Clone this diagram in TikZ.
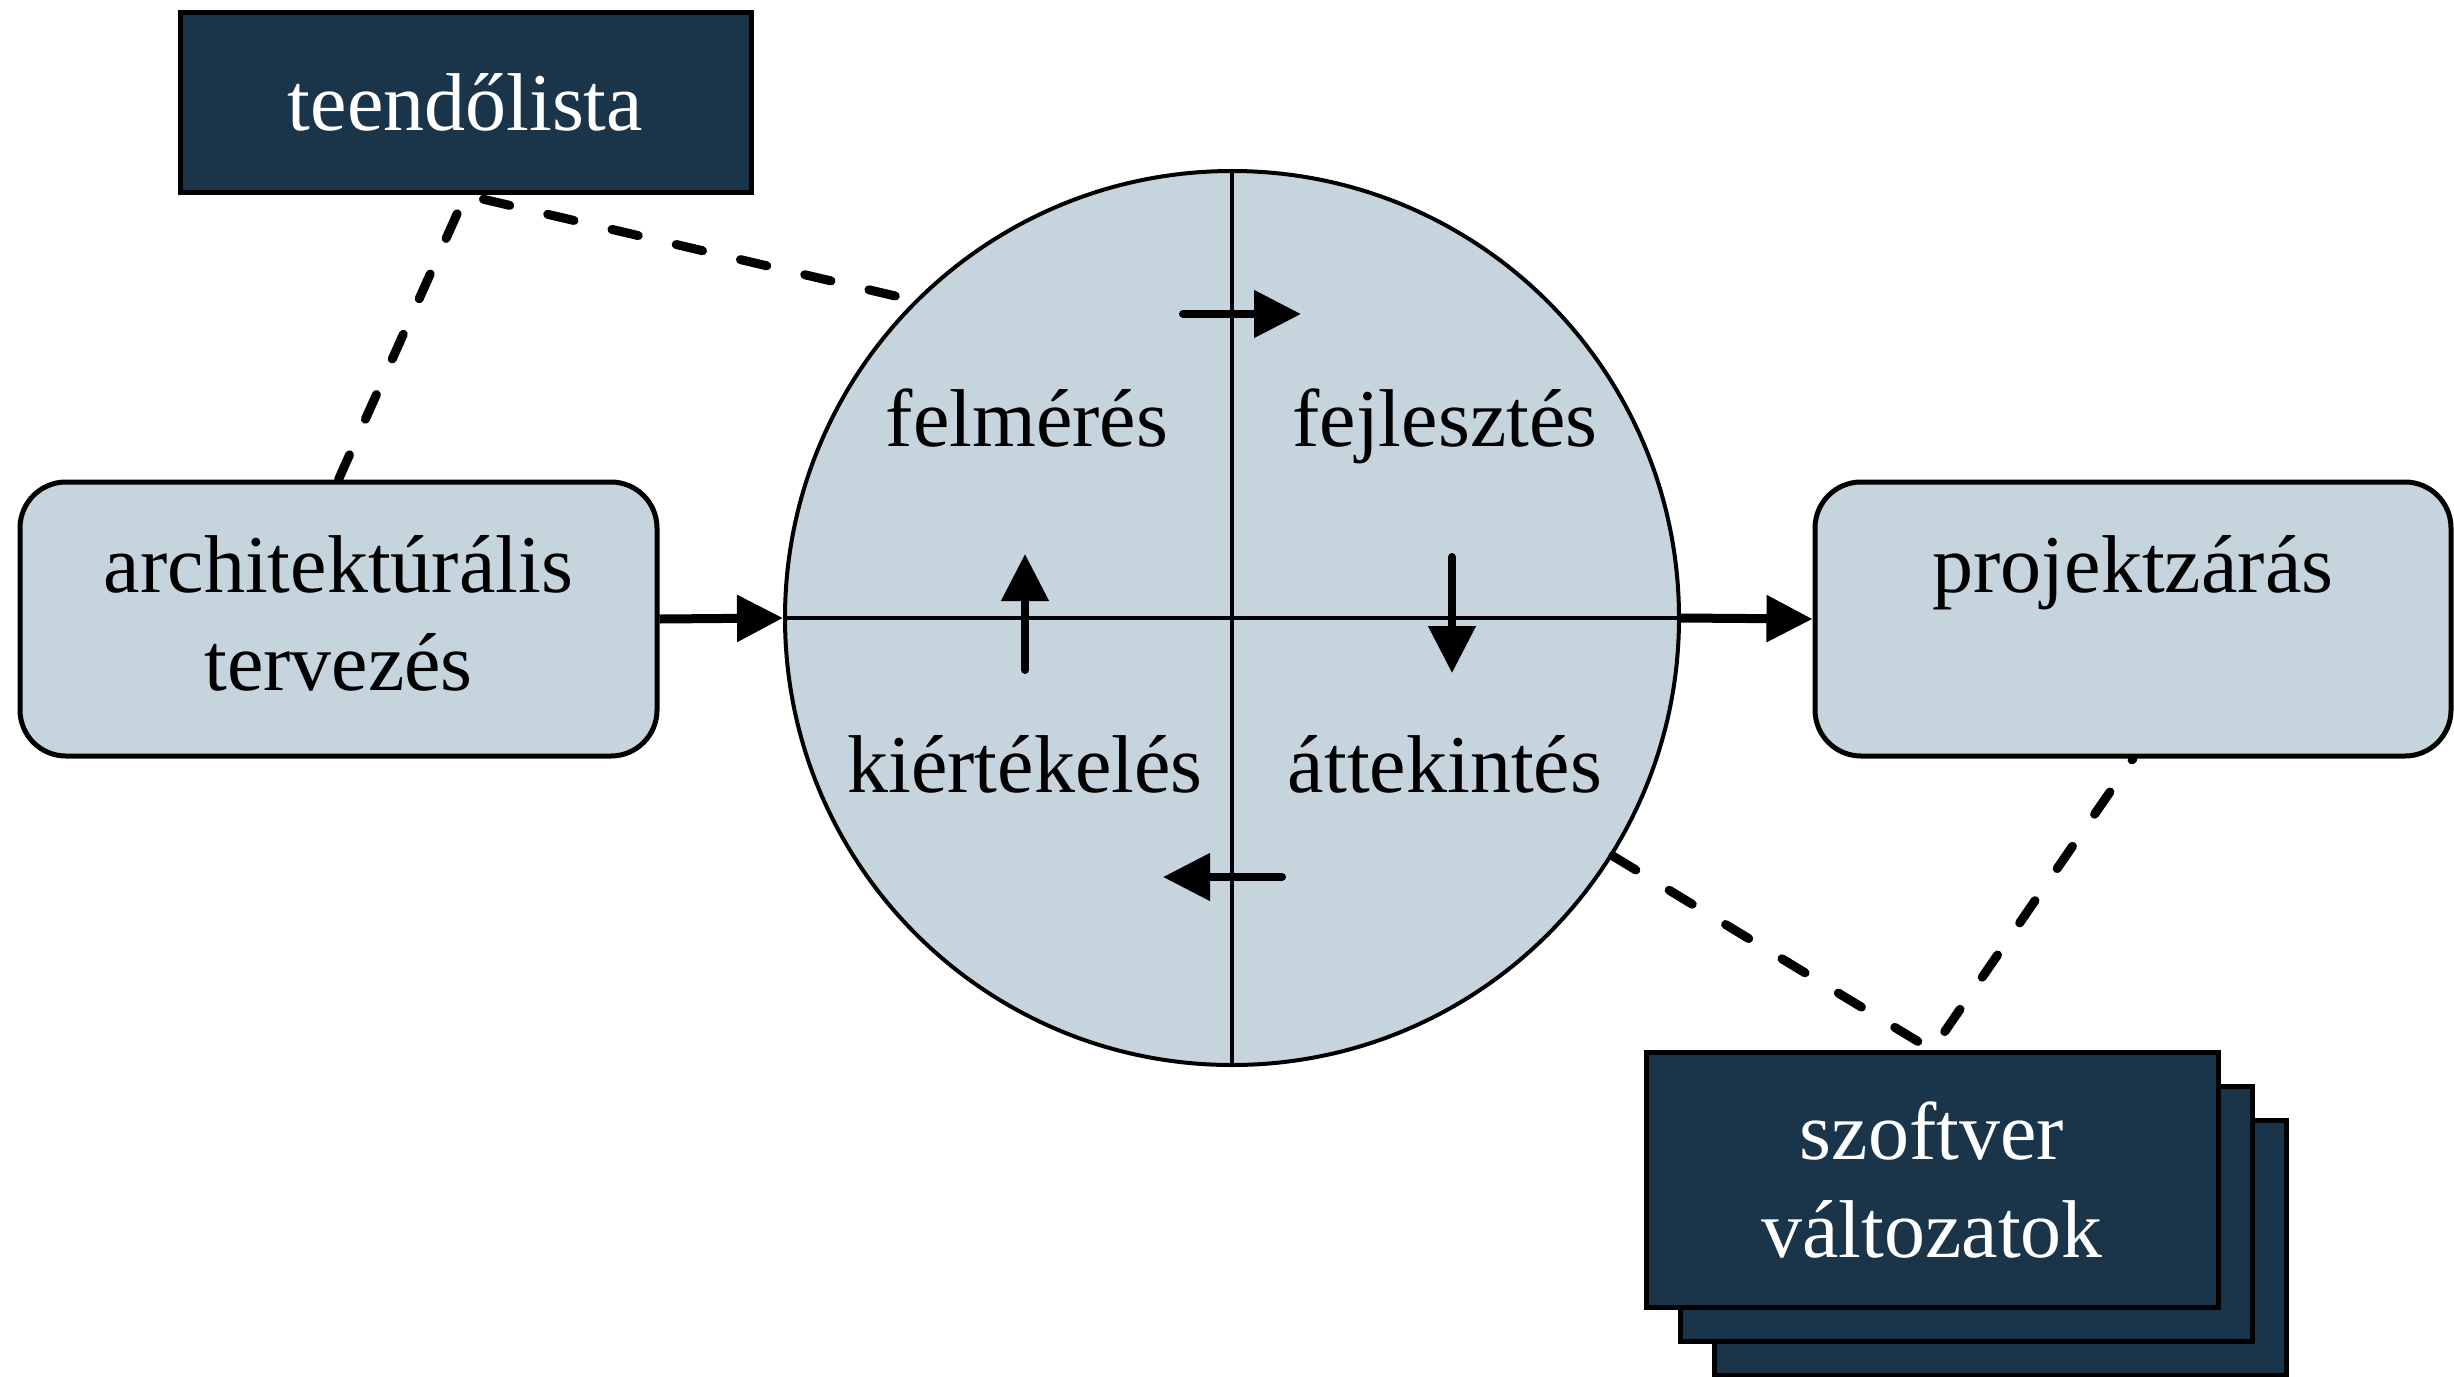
\documentclass[tikz,border=0pt]{standalone}
\usepackage{fontspec}
\setmainfont{Liberation Serif}
\usetikzlibrary{arrows.meta}
\definecolor{darkbox}{RGB}{26,53,73}
\definecolor{lightbox}{RGB}{198,212,221}
\newcommand{\lowstrut}{\rule[-12pt]{0pt}{12pt}}
\begin{document}
\begin{tikzpicture}[x=1pt,y=-1pt,
  bigfont/.style={font=\fontsize{82}{98}\selectfont},
  darkrect/.style={draw=black, line width=5pt, fill=darkbox, text=white, align=center, inner sep=0pt, bigfont},
  lightrect/.style={draw=black, line width=5pt, fill=lightbox, rounded corners=46pt, align=center, inner sep=0pt, bigfont},
  flow/.style={line width=9pt, -{Triangle[length=46pt,width=45pt]}},
  cycarrow/.style={line width=8pt, line cap=round, -{Triangle[length=47pt,width=46pt]}},
  dashline/.style={line width=9pt, line cap=round, dash pattern=on 27pt off 39pt},
  quarter/.style={bigfont, anchor=base}
]
\path[use as bounding box] (0,0) rectangle (2454,1376);

% boxes
\node[darkrect, minimum width=571pt, minimum height=180pt] (todo) at (465.5,102.5) {teendőlista};
\node[lightrect, minimum width=637pt, minimum height=274pt] (arch) at (338.5,619) {architektúrális\\tervezés\lowstrut};
\node[lightrect, minimum width=636pt, minimum height=274pt] (proj) at (2133,619) {projektzárás\\\phantom{tervezés}\lowstrut};

% stacked release boxes
\node[darkrect, minimum width=572pt, minimum height=255pt] (ver3) at (2000,1248) {};
\node[darkrect, minimum width=572pt, minimum height=255pt] (ver2) at (1966,1214) {};
\node[darkrect, minimum width=572pt, minimum height=255pt] (ver) at (1932,1180) {szoftver\\változatok};

% cycle circle
\node[circle, draw=black, line width=4pt, fill=lightbox, minimum size=894pt, inner sep=0pt] (cyc) at (1232,618) {};
\draw[line width=4pt] (cyc.west) -- (cyc.east);
\draw[line width=4pt] (cyc.north) -- (cyc.south);

% quarter labels
\node[quarter] (q1) at (1027,446) {felmérés};
\node[quarter] (q2) at (1445,446) {fejlesztés};
\node[quarter] (q3) at (1025,792) {kiértékelés};
\node[quarter] (q4) at (1445,792) {áttekintés};

% cycle arrows
\coordinate (a1s) at (1183,314);
\coordinate (a1e) at (1301,314);
\coordinate (a2s) at (1452,557);
\coordinate (a2e) at (1452,673);
\coordinate (a3s) at (1282,877);
\coordinate (a3e) at (1163,877);
\coordinate (a4s) at (1025,670);
\coordinate (a4e) at (1025,554);
\draw[cycarrow] (a1s) -- (a1e);
\draw[cycarrow] (a2s) -- (a2e);
\draw[cycarrow] (a3s) -- (a3e);
\draw[cycarrow] (a4s) -- (a4e);

% flow arrows
\draw[flow] (arch.east) -- (cyc.west);
\draw[flow] (cyc.east) -- (proj.west);

% dashed associations
\draw[dashline] (arch.north) -- (todo.south) -- (cyc.135);
\draw[dashline] (cyc.-32) -- (ver.north) -- (proj.south);
\end{tikzpicture}
\end{document}
